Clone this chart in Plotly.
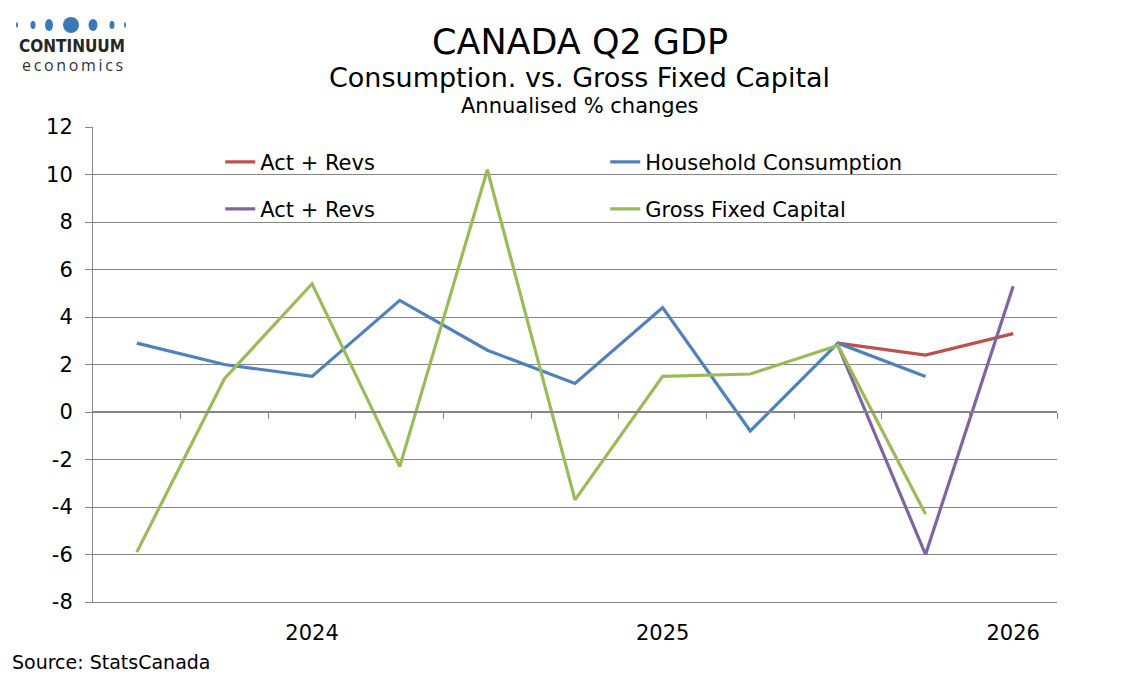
import plotly.graph_objects as go

# quarters Q3 2023 .. Q1 2026, annualised % changes
quarters = list(range(11))
year_ticks = [2, 6, 10]
year_labels = ["2024", "2025", "2026"]
y_ticks = [-8, -6, -4, -2, 0, 2, 4, 6, 8, 10, 12]
y_labels = ["-8", "-6", "-4", "-2", "0", "2", "4", "6", "8", "10", "12"]

household = [2.9, 2.0, 1.5, 4.7, 2.6, 1.2, 4.4, -0.8, 2.9, 1.5, None]
household_revs = [None] * 8 + [2.9, 2.4, 3.3]
gfcf = [-5.9, 1.4, 5.4, -2.3, 10.2, -3.7, 1.5, 1.6, 2.8, -4.3, None]
gfcf_revs = [None] * 8 + [2.8, -6.0, 5.3]

RED = "#C0504D"
BLUE = "#4F81BD"
PURPLE = "#8064A2"
GREEN = "#9BBB59"
GRID = "#868686"
FONT = "DejaVu Sans"

fig = go.Figure()

series = [
    ("Act + Revs", household_revs, RED, "legend"),
    ("Household Consumption", household, BLUE, "legend"),
    ("Act + Revs", gfcf_revs, PURPLE, "legend2"),
    ("Gross Fixed Capital", gfcf, GREEN, "legend2"),
]
for name, vals, color, leg in series:
    fig.add_trace(go.Scatter(x=quarters, y=vals, mode="lines", name=name,
                             line=dict(color=color, width=3.2), legend=leg))

# invisible trace so the zero-line axis with category ticks is drawn
fig.add_trace(go.Scatter(x=[0], y=[0], xaxis="x2", mode="markers",
                         marker=dict(opacity=0), showlegend=False, hoverinfo="skip"))

legend_style = dict(orientation="h", xanchor="left", yanchor="middle",
                    entrywidth=340, entrywidthmode="pixels", traceorder="normal",
                    font=dict(family=FONT, size=21, color="#000000"),
                    bgcolor="rgba(0,0,0,0)")

fig.update_layout(
    width=1134, height=680,
    margin=dict(l=85, r=85, t=119, b=86),
    paper_bgcolor="white", plot_bgcolor="white",
    font=dict(family=FONT, color="#000000"),
    showlegend=True,
    legend=dict(x=0.132, y=0.926, **legend_style),
    legend2=dict(x=0.132, y=0.827, **legend_style),
    xaxis=dict(range=[-0.5, 10.5], tickvals=year_ticks, ticktext=year_labels,
               showgrid=False, zeroline=False, showline=True, linecolor=GRID,
               ticks="", tickfont=dict(size=21), ticklabelstandoff=12),
    xaxis2=dict(range=[-0.5, 10.5], overlaying="x", anchor="free", position=0.4,
                side="bottom", tickvals=[q + 0.5 for q in quarters[:-1]] + [10.5],
                showticklabels=False, ticks="outside", ticklen=6, tickcolor=GRID,
                showline=True, linecolor=GRID, linewidth=1.5, showgrid=False, zeroline=False),
    yaxis=dict(range=[-8, 12], tickvals=y_ticks, ticktext=y_labels,
               showgrid=True, gridcolor=GRID, gridwidth=1.2,
               zeroline=False, showline=True, linecolor=GRID, ticks="outside",
               ticklen=7, tickcolor=GRID, tickfont=dict(size=21), ticklabelstandoff=8),
)

# titles
fig.add_annotation(text="CANADA Q2 GDP", xref="paper", yref="paper", x=0.505, y=1.179,
                   showarrow=False, font=dict(size=35), xanchor="center", yanchor="middle")
fig.add_annotation(text="Consumption. vs. Gross Fixed Capital", xref="paper", yref="paper",
                   x=0.505, y=1.105, showarrow=False, font=dict(size=27),
                   xanchor="center", yanchor="middle")
fig.add_annotation(text="Annualised % changes", xref="paper", yref="paper",
                   x=0.505, y=1.044, showarrow=False, font=dict(size=21),
                   xanchor="center", yanchor="middle")
fig.add_annotation(text="Source: StatsCanada", xref="paper", yref="paper",
                   x=-0.086, y=-0.126, xanchor="left", yanchor="middle",
                   showarrow=False, font=dict(size=19))

# logo
dots = [(17, 2, 6), (33, 5, 8), (49, 8, 12), (71, 16, 16), (93, 9, 12), (112, 5, 8), (125, 2, 6)]
for cx, w, h in dots:
    fig.add_shape(type="circle", xref="paper", yref="paper",
                  xsizemode="pixel", ysizemode="pixel",
                  xanchor=(cx - 93) / 964, yanchor=(602 - 25) / 475,
                  x0=-w / 2, x1=w / 2, y0=-h / 2, y1=h / 2,
                  fillcolor="#3a79b6", line=dict(width=0))
fig.add_annotation(text="<b>CONTINUUM</b>", xref="paper", yref="paper",
                   x=(72 - 93) / 964, y=(602 - 46) / 475, showarrow=False,
                   xanchor="center", yanchor="middle",
                   font=dict(family="DejaVu Sans Condensed", size=17, color="#262626"))
fig.add_annotation(text="e\u2009c\u2009o\u2009n\u2009o\u2009m\u2009i\u2009c\u2009s",
                   xref="paper", yref="paper",
                   x=(72 - 93) / 964, y=(602 - 65) / 475, showarrow=False,
                   xanchor="center", yanchor="middle",
                   font=dict(family="Open Sans", size=16, color="#333333"))

fig.write_html("out.html")
